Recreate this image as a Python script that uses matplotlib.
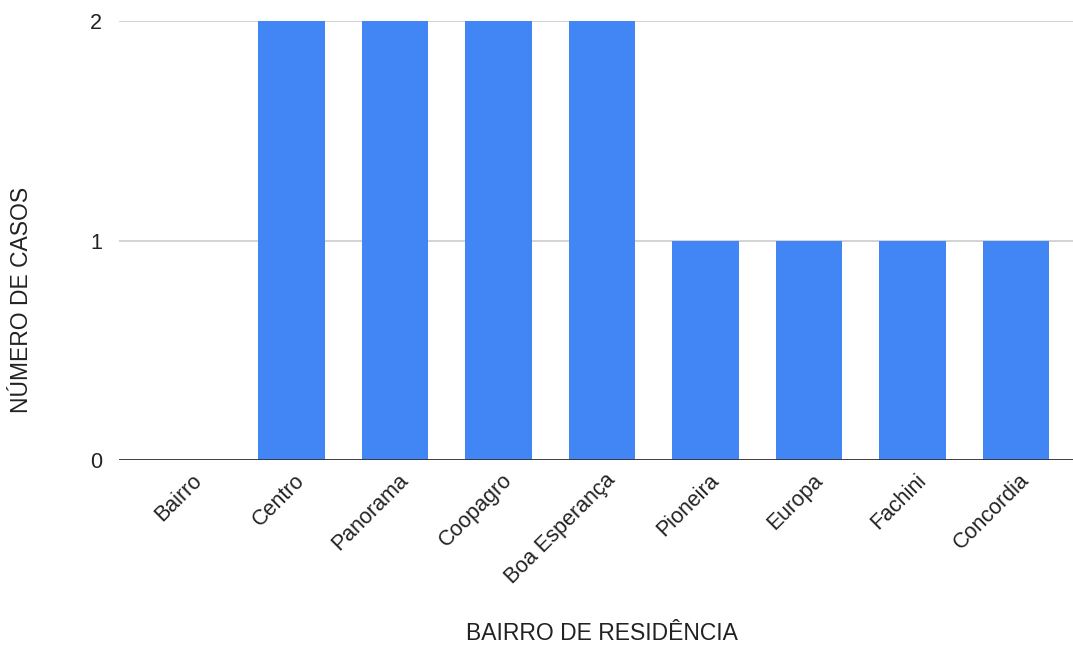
import numpy as np
import matplotlib
matplotlib.use("Agg")
import matplotlib.pyplot as plt
from matplotlib.transforms import ScaledTranslation

bairros = ["Bairro", "Centro", "Panorama", "Coopagro", "Boa Esperança",
           "Pioneira", "Europa", "Fachini", "Concordia"]
casos = [0, 2, 2, 2, 2, 1, 1, 1, 1]
y_ticks = [0, 1, 2]

plt.rcParams["font.family"] = ["Liberation Sans", "DejaVu Sans"]
text_color = "#222222"

fig = plt.figure(figsize=(10.73, 6.46), dpi=100)
ax = fig.add_axes([0.1109, 0.2879, 0.889, 0.6796])

x = np.arange(len(bairros))
ax.bar(x, casos, width=0.64, color="#4285F4", zorder=2)

ax.set_xlim(-0.667, len(bairros) - 1 + 0.55)
ax.set_ylim(0, 2)
ax.set_yticks(y_ticks)
ax.set_yticklabels([str(v) for v in y_ticks], fontsize=15.5, color=text_color)
ax.grid(True, axis="y", color="#cccccc", linewidth=1.2, zorder=0)
ax.axhline(0, color="#333333", linewidth=2, zorder=3)

ax.set_xticks(x)
ax.set_xticklabels(bairros, rotation=45, ha="right", rotation_mode="anchor",
                   fontsize=15.5, color=text_color)
ax.tick_params(axis="x", length=0, pad=7)
ax.tick_params(axis="y", length=0, pad=12)
# nudge the rotated labels slightly right of the bar centre
shift = ScaledTranslation(3 / 100, 0, fig.dpi_scale_trans)
for lbl in ax.get_xticklabels():
    lbl.set_transform(lbl.get_transform() + shift)

for side in ["top", "right", "left", "bottom"]:
    ax.spines[side].set_visible(False)

fig.text(602 / 1073, 1 - 634 / 646, "BAIRRO DE RESIDÊNCIA", fontsize=16.5,
         color=text_color, ha="center", va="center")
fig.text(22 / 1073, 1 - 300 / 646, "NÚMERO DE CASOS", fontsize=16.5,
         color=text_color, ha="center", va="center", rotation=90)

fig.savefig("out.png", dpi=100)
